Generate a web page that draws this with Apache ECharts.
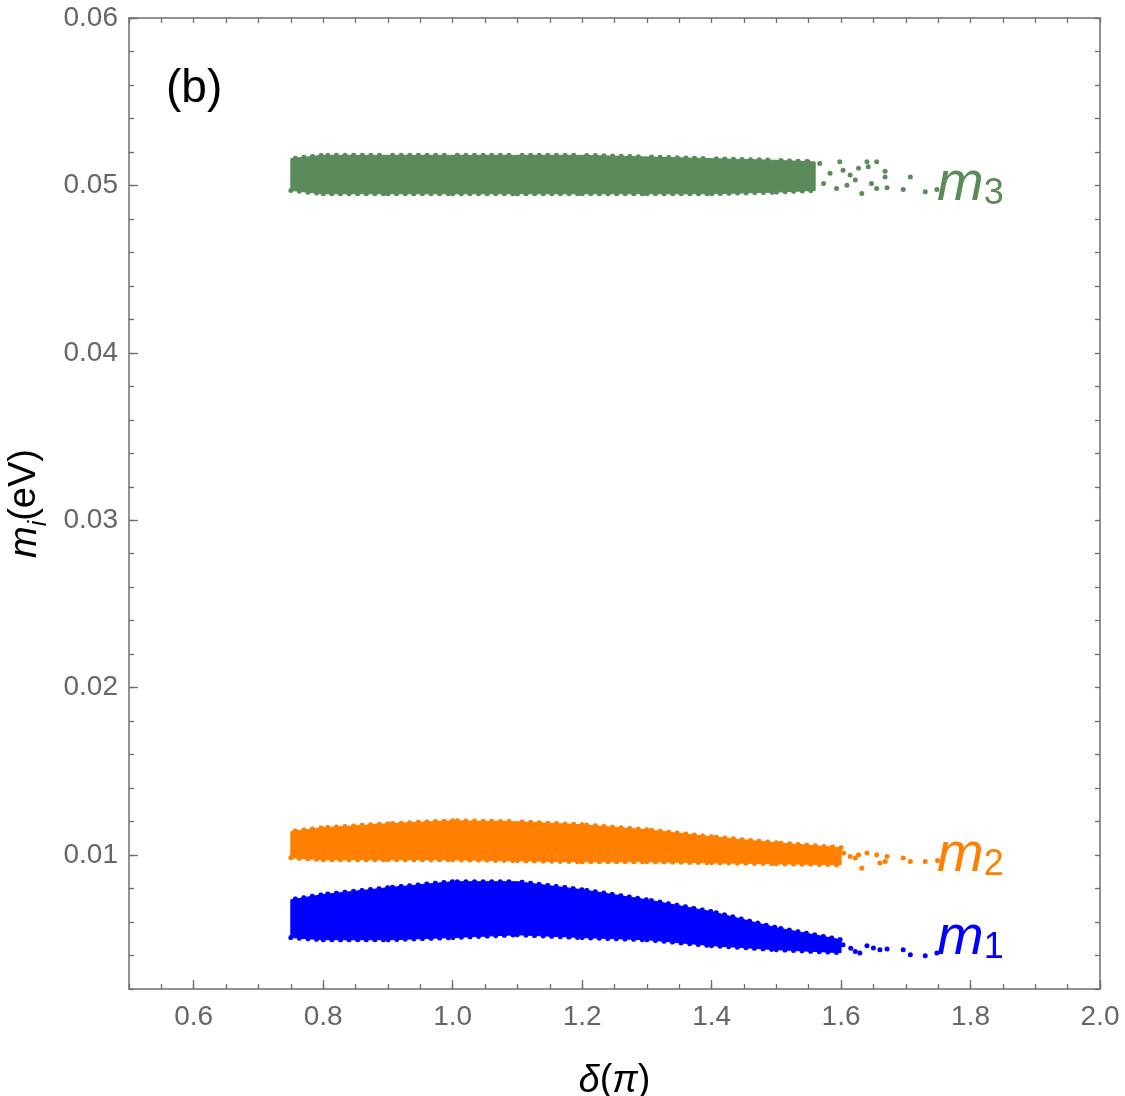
<!DOCTYPE html>
<html>
<head>
<meta charset="utf-8">
<script src="https://cdn.jsdelivr.net/npm/echarts@6/dist/echarts.min.js"></script>
<style>
  html, body { margin: 0; padding: 0; background: #fff; }
  #main { width: 1125px; height: 1096px; }
</style>
</head>
<body>
<div id="main"></div>
<script>
// tick labels
var xTicks = [0.6, 0.8, 1.0, 1.2, 1.4, 1.6, 1.8, 2.0];
var yTicks = [0.01, 0.02, 0.03, 0.04, 0.05, 0.06];

// dense part of each cloud, read as lower / upper edge at a few delta values
var m3X    = [0.75, 0.8, 0.9, 1.0, 1.1, 1.2, 1.3, 1.4, 1.5, 1.56];
var m3Low  = [0.0497, 0.0495, 0.0495, 0.0495, 0.0495, 0.0495, 0.0495, 0.0495, 0.0496, 0.0497];
var m3High = [0.0516, 0.0518, 0.0518, 0.0518, 0.0518, 0.0518, 0.0517, 0.0516, 0.0515, 0.0514];

var m2X    = [0.75, 0.8, 0.9, 1.0, 1.1, 1.2, 1.3, 1.4, 1.5, 1.6];
var m2Low  = [0.00984, 0.00972, 0.00972, 0.00972, 0.00966, 0.0096, 0.0096, 0.00954, 0.00948, 0.00942];
var m2High = [0.0114, 0.01163, 0.01187, 0.01205, 0.01199, 0.01181, 0.01151, 0.01109, 0.01073, 0.01044];

var m1X    = [0.75, 0.8, 0.9, 1.0, 1.1, 1.2, 1.3, 1.4, 1.5, 1.6];
var m1Low  = [0.00507, 0.00494, 0.00494, 0.00507, 0.00524, 0.00507, 0.00494, 0.00459, 0.00435, 0.00417];
var m1High = [0.00733, 0.00764, 0.00805, 0.00841, 0.00841, 0.00793, 0.00733, 0.00662, 0.00566, 0.00494];

// loose points at the right end of each cloud
var m3Tail = [
    [1.549, 0.05141], [1.567, 0.05131], [1.573, 0.05012], [1.583, 0.05072], [1.593, 0.04982],
    [1.598, 0.05141], [1.603, 0.05091], [1.609, 0.05001], [1.614, 0.05062], [1.622, 0.05032],
    [1.627, 0.05102], [1.632, 0.04952], [1.640, 0.05141], [1.642, 0.05111], [1.647, 0.05012],
    [1.655, 0.05141], [1.655, 0.04982], [1.668, 0.05085], [1.668, 0.05051], [1.671, 0.04986],
    [1.696, 0.04976], [1.707, 0.05051], [1.730, 0.04962], [1.748, 0.04976]
];
var m2Tail = [
    [1.604, 0.01012], [1.614, 0.00992], [1.622, 0.00982], [1.627, 0.01002], [1.632, 0.00922],
    [1.640, 0.01012], [1.655, 0.01002], [1.660, 0.00952], [1.668, 0.00962], [1.671, 0.00992],
    [1.696, 0.00982], [1.707, 0.00962], [1.730, 0.00962], [1.749, 0.00968]
];
var m1Tail = [
    [1.603, 0.00464], [1.615, 0.00444], [1.622, 0.00424], [1.629, 0.00415], [1.640, 0.00459],
    [1.650, 0.00445], [1.660, 0.00435], [1.671, 0.00439], [1.696, 0.00435], [1.707, 0.00405],
    [1.730, 0.00399], [1.748, 0.00415]
];

var colors = { m1: '#0000ff', m2: '#ff7f00', m3: '#5b8a5b' };
var FONT = 'Liberation Sans';
var AXIS_GRAY = '#6e6e6e';

function bandRows(xs, lo, hi) {
    var rows = [];
    for (var i = 0; i < xs.length; i++) {
        rows.push([xs[i], lo[i], hi[i]]);
    }
    return rows;
}

// one filled quad per pair of neighbouring rows, edged with round dots
function bandSeries(name, xs, lo, hi) {
    var dots = { fill: null, stroke: colors[name], lineWidth: 5, lineCap: 'round', lineDash: [0.1, 8.5] };
    return {
        name: name,
        type: 'custom',
        data: bandRows(xs, lo, hi),
        encode: { x: 0, y: [1, 2] },
        silent: true,
        renderItem: function (params, api) {
            var i = params.dataIndexInside;
            if (i >= params.dataInsideLength - 1) return null;
            var a = api.coord([api.value(0, i), api.value(1, i)]);
            var b = api.coord([api.value(0, i + 1), api.value(1, i + 1)]);
            var c = api.coord([api.value(0, i + 1), api.value(2, i + 1)]);
            var d = api.coord([api.value(0, i), api.value(2, i)]);
            return {
                type: 'group',
                children: [{
                    type: 'polygon',
                    shape: { points: [a, b, c, d] },
                    style: { fill: colors[name], stroke: colors[name], lineWidth: 1 }
                }, {
                    type: 'polyline',
                    shape: { points: [a, b] },
                    style: dots
                }, {
                    type: 'polyline',
                    shape: { points: [d, c] },
                    style: echarts.util.extend({ lineDashOffset: 4 }, dots)
                }]
            };
        }
    };
}

function tailSeries(name, pts) {
    return {
        name: name,
        type: 'scatter',
        data: pts,
        symbolSize: 5,
        itemStyle: { color: colors[name], opacity: 1 },
        silent: true
    };
}

function subLabel(main, sub, left, top, color) {
    return {
        type: 'text',
        left: left,
        top: top,
        style: {
            text: '{m|' + main + '}{s|' + sub + '}',
            fill: color,
            rich: {
                m: { fontFamily: FONT, fontStyle: 'italic', fontSize: 56, lineHeight: 56, verticalAlign: 'top', fill: color },
                s: { fontFamily: FONT, fontSize: 36, lineHeight: 36, verticalAlign: 'bottom', fill: color }
            }
        }
    };
}

var chart = echarts.init(document.getElementById('main'));

var option = {
    backgroundColor: '#fff',
    animation: false,
    grid: { left: 129, right: 25, top: 18, bottom: 107, outerBoundsMode: 'none', containLabel: false },
    xAxis: [{
        type: 'value', position: 'bottom', min: 0.5, max: 2.0,
        name: '{i|δ}{n|(}{i|π}{n|)}', nameLocation: 'middle', nameGap: 73,
        nameTextStyle: {
            color: '#000', fontFamily: FONT, fontSize: 38,
            rich: {
                i: { fontFamily: FONT, fontStyle: 'italic', fontSize: 38, color: '#000' },
                n: { fontFamily: FONT, fontSize: 38, color: '#000' }
            }
        },
        axisLine: { lineStyle: { color: AXIS_GRAY, width: 1.5 } },
        axisTick: { inside: true, length: 9, customValues: xTicks, lineStyle: { color: AXIS_GRAY, width: 1.3 } },
        axisLabel: {
            customValues: xTicks, margin: 14, color: '#666', fontFamily: FONT, fontSize: 28,
            formatter: function (v) { return v.toFixed(1); }
        },
        splitLine: { show: false }
    }, {
        type: 'value', position: 'bottom', min: 0.5, max: 2.0, interval: 0.05,
        axisLine: { show: false },
        axisTick: { inside: true, length: 5, lineStyle: { color: AXIS_GRAY, width: 1.3 } },
        axisLabel: { show: false },
        splitLine: { show: false }
    }, {
        type: 'value', position: 'top', min: 0.5, max: 2.0, interval: 0.05,
        axisLine: { lineStyle: { color: AXIS_GRAY, width: 1.5 } },
        axisTick: { inside: true, length: 5, lineStyle: { color: AXIS_GRAY, width: 1.3 } },
        axisLabel: { show: false },
        splitLine: { show: false }
    }],
    yAxis: [{
        type: 'value', position: 'left', min: 0.002, max: 0.06,
        name: '{m|m}{s|i}{n|(eV)}', nameLocation: 'middle', nameGap: 77, nameRotate: 90,
        nameTextStyle: {
            color: '#000', fontFamily: FONT, fontSize: 38,
            rich: {
                m: { fontFamily: FONT, fontStyle: 'italic', fontSize: 38, lineHeight: 46, verticalAlign: 'top', color: '#000' },
                s: { fontFamily: FONT, fontStyle: 'italic', fontSize: 25, lineHeight: 28, verticalAlign: 'bottom', color: '#000' },
                n: { fontFamily: FONT, fontSize: 38, lineHeight: 46, verticalAlign: 'top', color: '#000' }
            }
        },
        axisLine: { lineStyle: { color: AXIS_GRAY, width: 1.5 } },
        axisTick: { inside: true, length: 9, customValues: yTicks, lineStyle: { color: AXIS_GRAY, width: 1.3 } },
        axisLabel: {
            customValues: yTicks, margin: 11, color: '#666', fontFamily: FONT, fontSize: 28,
            formatter: function (v) { return v.toFixed(2); }
        },
        splitLine: { show: false }
    }, {
        type: 'value', position: 'left', min: 0.002, max: 0.06, interval: 0.002,
        axisLine: { show: false },
        axisTick: { inside: true, length: 5, lineStyle: { color: AXIS_GRAY, width: 1.3 } },
        axisLabel: { show: false },
        splitLine: { show: false }
    }, {
        type: 'value', position: 'right', min: 0.002, max: 0.06, interval: 0.002,
        axisLine: { lineStyle: { color: AXIS_GRAY, width: 1.5 } },
        axisTick: { inside: true, length: 5, lineStyle: { color: AXIS_GRAY, width: 1.3 } },
        axisLabel: { show: false },
        splitLine: { show: false }
    }],
    series: [
        bandSeries('m3', m3X, m3Low, m3High),
        bandSeries('m2', m2X, m2Low, m2High),
        bandSeries('m1', m1X, m1Low, m1High),
        tailSeries('m3', m3Tail),
        tailSeries('m2', m2Tail),
        tailSeries('m1', m1Tail)
    ],
    graphic: [
        { type: 'text', left: 166, top: 66, style: { text: '(b)', fontFamily: FONT, fontSize: 46, fill: '#000' } },
        subLabel('m', '3', 937, 156, colors.m3),
        subLabel('m', '2', 937, 827, colors.m2),
        subLabel('m', '1', 937, 910, colors.m1)
    ]
};

chart.setOption(option);
</script>
</body>
</html>
